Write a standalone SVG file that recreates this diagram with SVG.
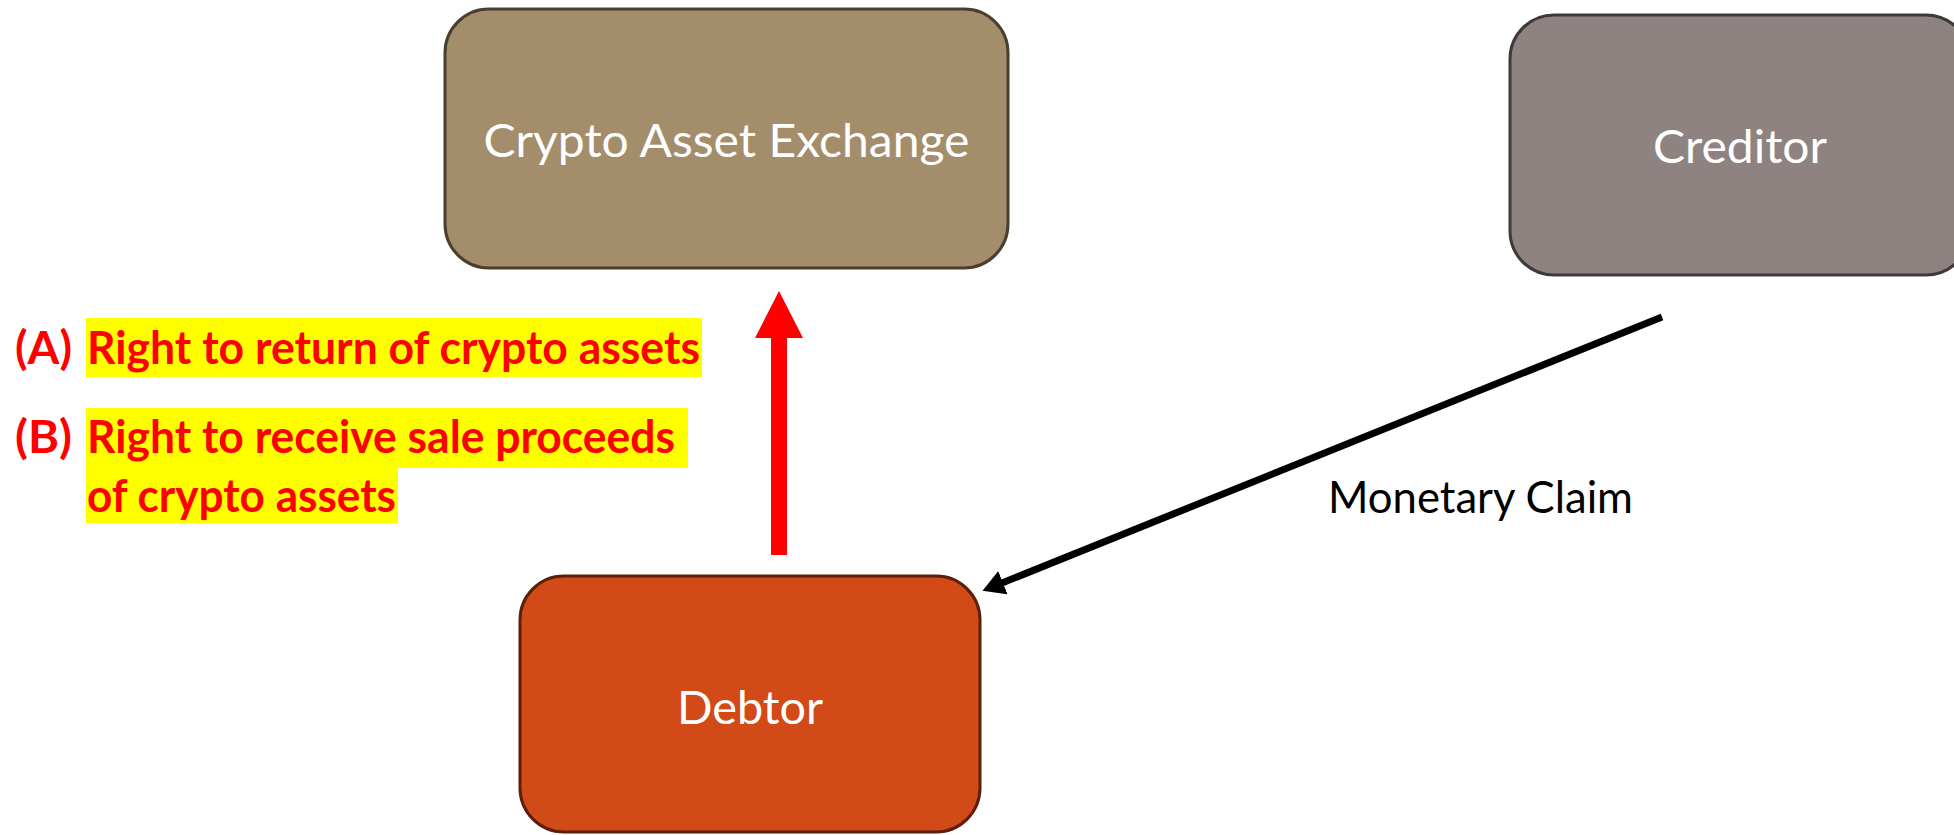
<svg xmlns="http://www.w3.org/2000/svg" width="1954" height="835" viewBox="0 0 1954 835">
  <style>
    .node { stroke-width: 3; }
    .label { font-family: Lato, "Open Sans", "Liberation Sans", sans-serif; font-size: 47px; fill: #ffffff; text-anchor: middle; }
    .claim { font-family: Lato, "Open Sans", "Liberation Sans", sans-serif; font-size: 44px; fill: #000000; }
    .red { font-family: Lato, "Open Sans", "Liberation Sans", sans-serif; font-size: 45px; font-weight: bold; fill: #ff0000; }
    .hl { fill: #ffff00; }
  </style>
  <defs>
    <marker id="blackHead" viewBox="0 0 22 25" refX="1" refY="12.5" markerWidth="22" markerHeight="25" markerUnits="userSpaceOnUse" orient="auto">
      <path d="M0,0 L22,12.5 L0,25 Z" fill="#000000"/>
    </marker>
  </defs>

  <g id="exchange">
    <rect class="node" x="445" y="9" width="563" height="259" rx="44" ry="44" fill="#A38D6B" stroke="#4A3F2E"/>
    <text class="label" x="726.5" y="157" textLength="486" lengthAdjust="spacingAndGlyphs">Crypto Asset Exchange</text>
  </g>

  <g id="creditor">
    <rect class="node" x="1510" y="15" width="460" height="260" rx="44" ry="44" fill="#8F8382" stroke="#3F3A3A"/>
    <text class="label" x="1740" y="163" textLength="174" lengthAdjust="spacingAndGlyphs">Creditor</text>
  </g>

  <g id="debtor">
    <rect class="node" x="520" y="576" width="460" height="256" rx="44" ry="44" fill="#D14A18" stroke="#5C1F0A"/>
    <text class="label" x="750" y="724" textLength="146" lengthAdjust="spacingAndGlyphs">Debtor</text>
  </g>

  <g id="rights-label">
    <rect class="hl" x="86" y="318" width="616" height="59"/>
    <rect class="hl" x="86" y="408" width="602" height="60"/>
    <rect class="hl" x="86" y="467" width="312" height="56"/>
    <text class="red" x="15" y="364" textLength="57" lengthAdjust="spacingAndGlyphs">(A)</text>
    <text class="red" x="87" y="364" textLength="613" lengthAdjust="spacingAndGlyphs">Right to return of crypto assets</text>
    <text class="red" x="15" y="453" textLength="57" lengthAdjust="spacingAndGlyphs">(B)</text>
    <text class="red" x="87" y="453" textLength="588" lengthAdjust="spacingAndGlyphs">Right to receive sale proceeds</text>
    <text class="red" x="87" y="512" textLength="309" lengthAdjust="spacingAndGlyphs">of crypto assets</text>
  </g>

  <g id="connectors">
    <polygon id="rights-arrow" points="771,555 771,338 755,338 779,291 803,338 787,338 787,555" fill="#FF0000"/>
    <line id="monetary-claim" x1="1662" y1="317" x2="1002" y2="583" stroke="#000000" stroke-width="7" marker-end="url(#blackHead)"/>
    <text class="claim" x="1328" y="513" textLength="305" lengthAdjust="spacingAndGlyphs">Monetary Claim</text>
  </g>
</svg>
